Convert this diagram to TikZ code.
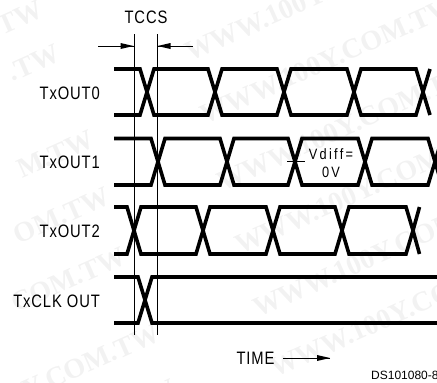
\documentclass[tikz,border=0pt]{standalone}
\usepackage{fontspec}
\setmainfont{Liberation Sans}
\newfontfamily\wmfont{Liberation Serif}
\newfontfamily\spacedfont[LetterSpace=6]{Liberation Sans}
\newfontfamily\tightfont[LetterSpace=18]{Liberation Sans}
\tikzset{x=1pt,y=-1pt,
  sigline/.style={line width=3.6pt,line join=miter,miter limit=10,black},
  guide/.style={line width=1pt,black},
  arrowline/.style={line width=0.9pt,black},
  lbl/.style={inner sep=0,font=\spacedfont\fontsize{18}{18}\selectfont,xscale=0.82,anchor=east},
  caplbl/.style={inner sep=0,font=\spacedfont\fontsize{18}{18}\selectfont,xscale=0.82},
  smalllbl/.style={inner sep=0,font=\tightfont\fontsize{15}{15}\selectfont,xscale=0.85},
  wm/.style={inner sep=0,rotate=24,text=black!5,font=\wmfont\bfseries\fontsize{28}{28}\selectfont},
  wmr/.style={wm,anchor=base east},
  wml/.style={wm,anchor=base west}}
\newcommand{\eye}[4]{\draw[sigline] (#1,{(#3+#4)/2})--(#1+7,#3)--(#2-7,#3)--(#2,{(#3+#4)/2})--(#2-7,#4)--(#1+7,#4)--cycle;}
\newcommand{\startsig}[3]{\draw[sigline] (114,#2)--(#1-7,#2)--(#1,{(#2+#3)/2})--(#1-7,#3)--(114,#3);}
\newcommand{\finsig}[4]{\draw[sigline] (#4,#2)--(#1,{(#2+#3)/2})--(#4,#3);}
\begin{document}
\begin{tikzpicture}
\useasboundingbox (0,0) rectangle (437,383);
\clip (0,0) rectangle (437,383);
\node[wmr] (w1) at (45,16) {.TW};
\node[wmr] (w2) at (62,60) {.TW};
\node[wmr] (w3) at (96,146) {M.TW};
\node[wmr] (w4) at (112,203) {OM.TW};
\node[wmr] (w5) at (128,263) {COM.TW};
\node[wmr] (w6) at (162,340) {Y.COM.TW};
\node[wmr] (w6b) at (178,395) {Y.COM.TW};
\node[wml] (w7) at (190,62) {WWW.100Y.COM.TW};
\node[wml] (w8) at (205,125) {WWW.100Y.COM.TW};
\node[wml] (w9) at (222,192) {WWW.100Y.COM.TW};
\node[wml] (w10) at (240,255) {WWW.100Y.COM.TW};
\node[wml] (w11) at (258,318) {WWW.100Y.COM.TW};
\node[wml] (w12) at (275,378) {WWW.100Y.COM.TW};
% TxOUT0
\startsig{147}{69}{115}
\eye{147}{215}{69}{115}\eye{215}{284}{69}{115}\eye{284}{354}{69}{115}\eye{354}{423}{69}{115}
\finsig{423}{69}{115}{430}
% TxOUT1
\startsig{158}{138.5}{185}
\eye{158}{227}{138.5}{185}\eye{227}{295}{138.5}{185}\eye{295}{365}{138.5}{185}\eye{365}{435}{138.5}{185}
\finsig{435}{138.5}{185}{442}
% TxOUT2
\startsig{134}{207}{254}
\eye{134}{203}{207}{254}\eye{203}{273}{207}{254}\eye{273}{342}{207}{254}\eye{342}{413}{207}{254}
\finsig{413}{207}{254}{419.5}
% TxCLK
\startsig{145}{277}{323}
\draw[sigline] (437,277)--(152,277)--(145,300)--(152,323)--(437,323);
% guides
\coordinate (gla) at (134,34); \coordinate (glb) at (134,335);
\coordinate (gra) at (157,34); \coordinate (grb) at (157,335);
\draw[guide] (gla)--(glb);
\draw[guide] (gra)--(grb);
% TCCS arrows
\coordinate (al) at (98,46); \coordinate (ar) at (193,46);
\coordinate (ale) at (133.5,46); \coordinate (are) at (157.5,46);
\fill (ale) -- ++(-13,-3) -- ++(0,6) -- cycle;
\fill (are) -- ++(13,-3) -- ++(0,6) -- cycle;
\draw[arrowline] (al)--(ale);
\draw[arrowline] (ar)--(are);
\node[caplbl] (tccs) at (146,17) {TCCS};
% labels
\node[lbl] (l0) at (100,93) {TxOUT0};
\node[lbl] (l1) at (100,162) {TxOUT1};
\node[lbl] (l2) at (100,231) {TxOUT2};
\node[lbl] (l3) at (100,301) {TxCLK OUT};
% Vdiff
\coordinate (ta) at (287,161); \coordinate (tb) at (305,161);
\draw[arrowline] (ta)--(tb);
\node[smalllbl] (v1) at (331,154) {Vdiff=};
\node[smalllbl] (v2) at (331,172) {0V};
% Time
\node[caplbl] (time) at (255.5,358.5) {TIME};
\coordinate (ts) at (283,358); \coordinate (te) at (330,358);
\fill (te) -- ++(-13,-3) -- ++(0,6) -- cycle;
\draw[arrowline] (ts)--(te);
\node[inner sep=0,anchor=west,font=\fontsize{12}{12}\selectfont] (ds) at (371,375) {DS101080-8};
\end{tikzpicture}
\end{document}
